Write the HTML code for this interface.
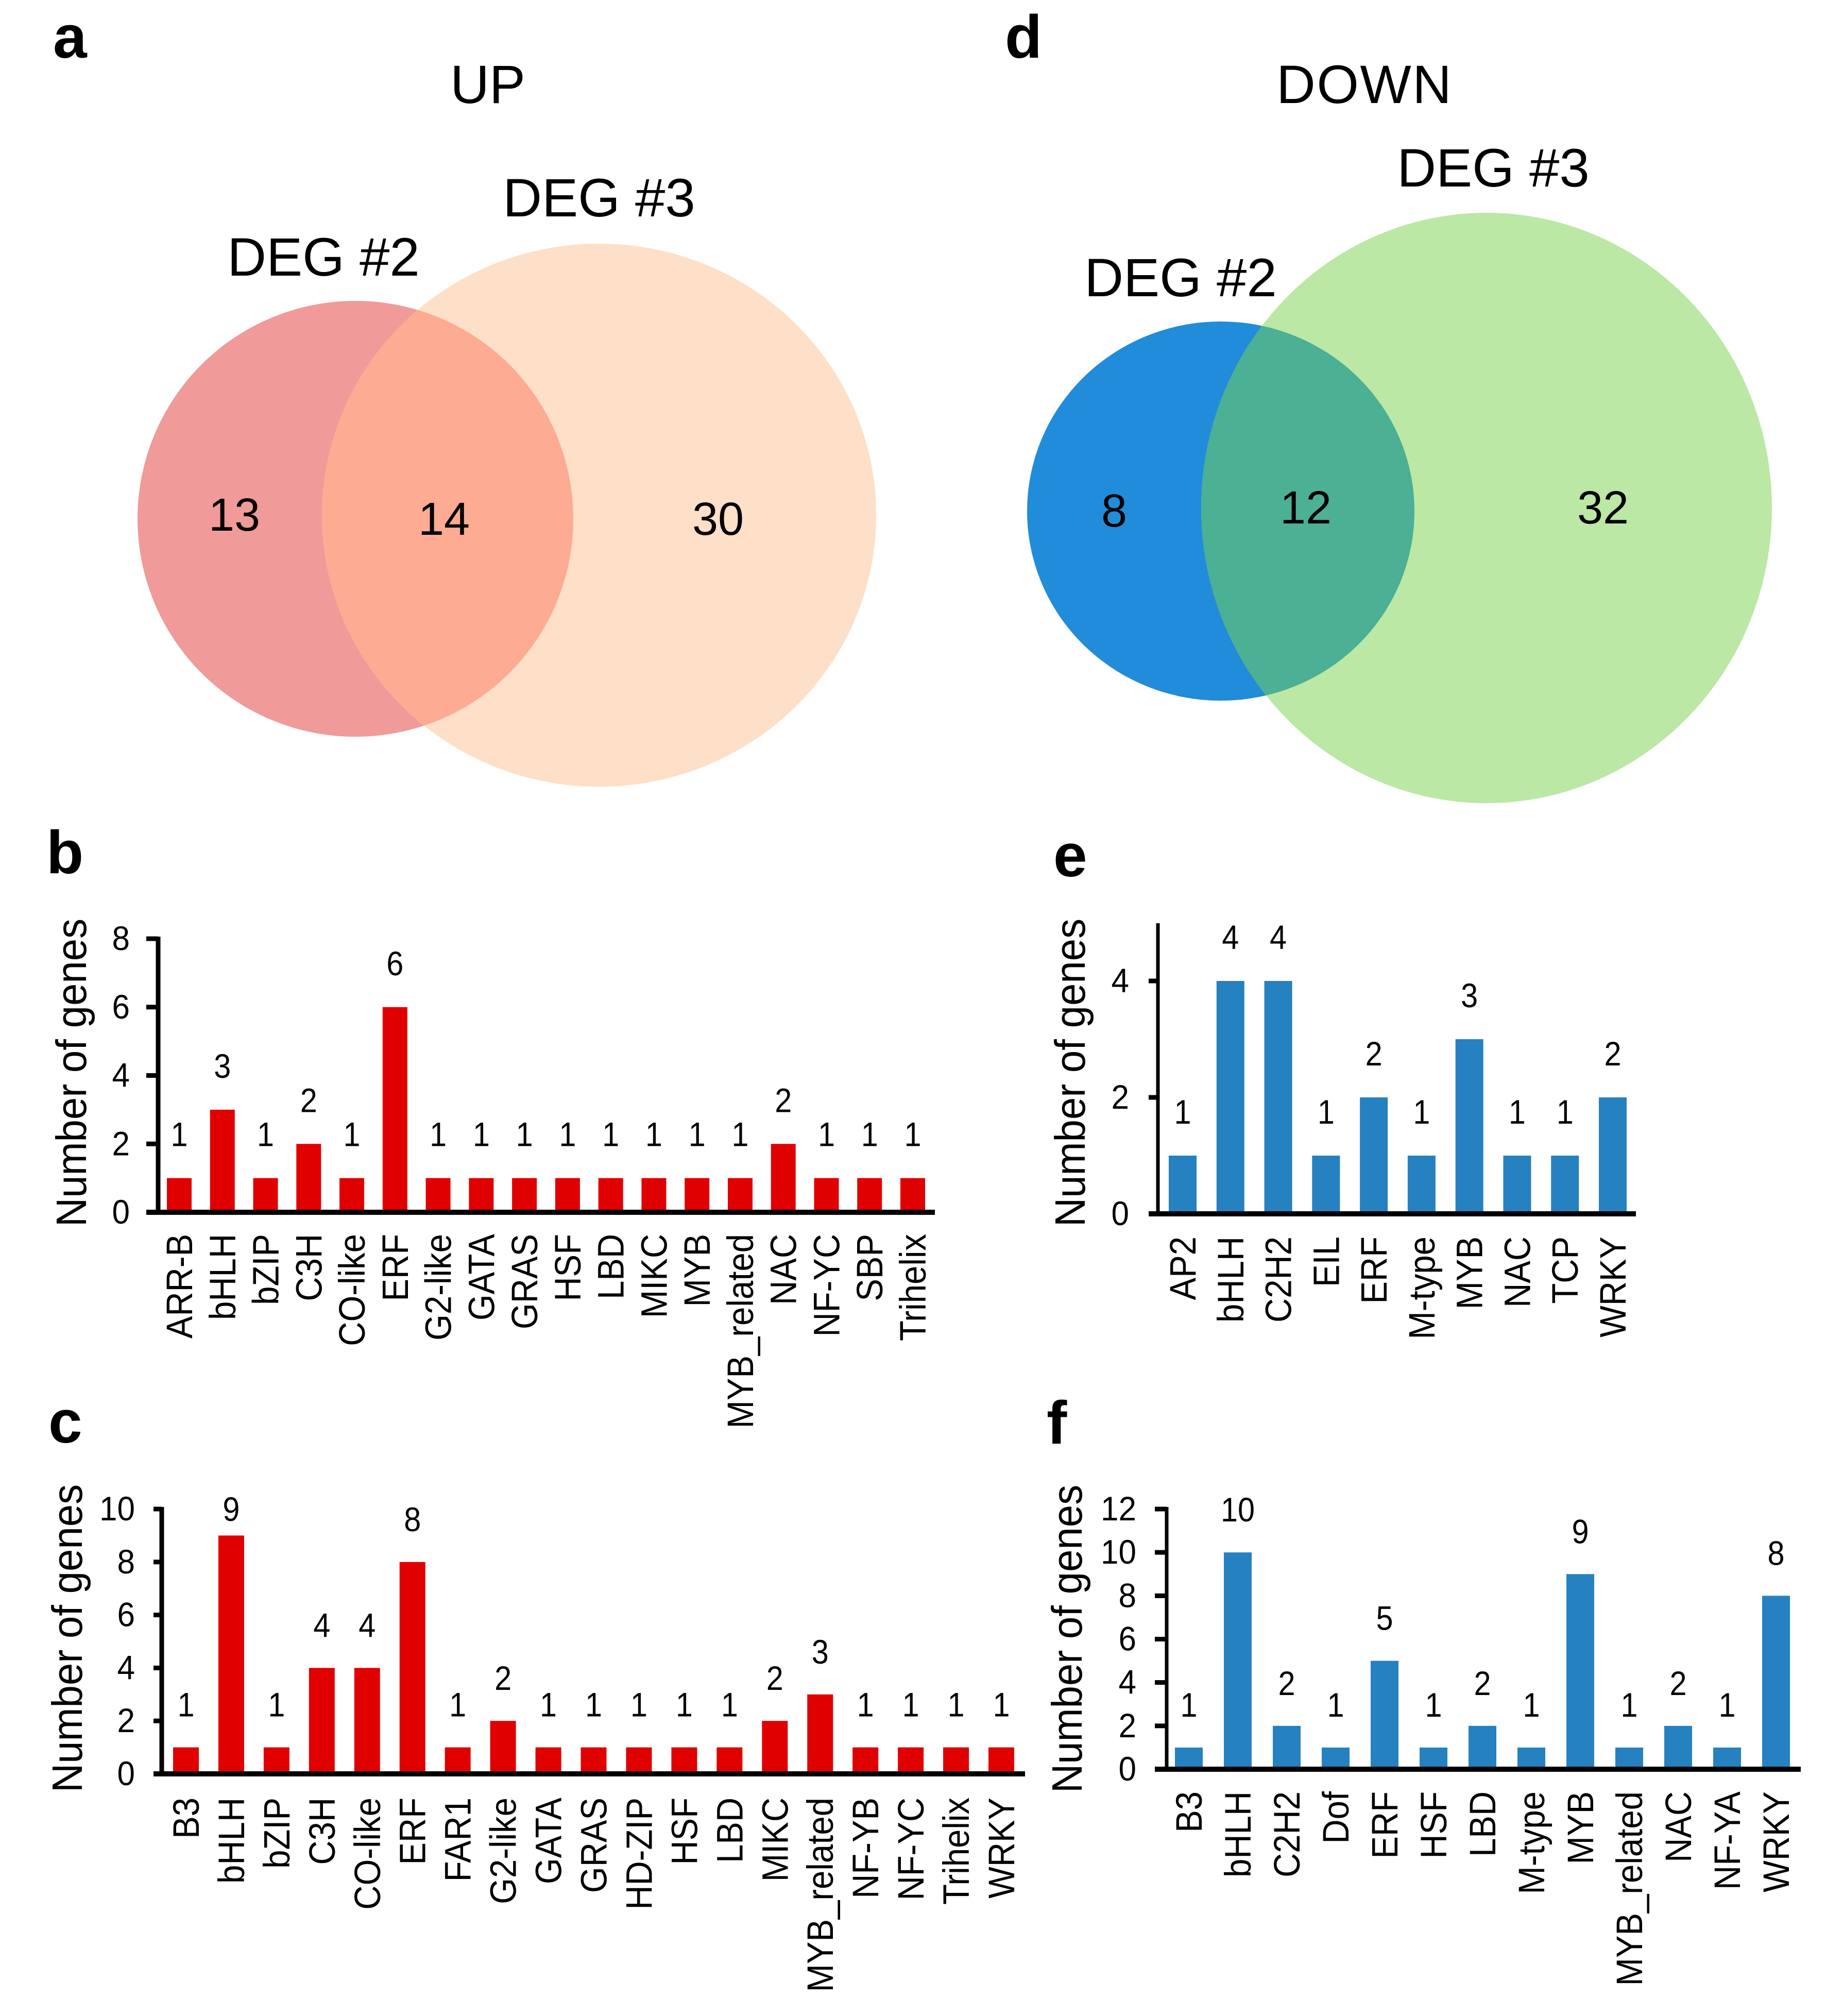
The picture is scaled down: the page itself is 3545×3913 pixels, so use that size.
<!DOCTYPE html>
<html lang="en">
<head>
<meta charset="utf-8">
<title>UP and DOWN DEG Venn diagrams and transcription factor counts</title>
<style>
html,body{margin:0;padding:0;background:#fff;width:3545px;height:3913px;overflow:hidden}
svg{display:block}
text{font-family:"Liberation Sans",sans-serif;fill:#000}
.panel{font-weight:700;font-size:118px}
.big{font-size:105px;text-anchor:middle}
.num{font-size:90px;text-anchor:middle}
</style>
</head>
<body>
<svg id="figure" xmlns="http://www.w3.org/2000/svg" width="3545" height="3913" viewBox="0 0 3545 3913">
  <defs>
    <clipPath id="clip-up"><ellipse cx="690" cy="1007" rx="423" ry="423"/></clipPath>
    <clipPath id="clip-down"><ellipse cx="2370" cy="992" rx="376" ry="368"/></clipPath>
  </defs>
  <rect width="3545" height="3913" fill="#fff"/>

  <g>
    <ellipse cx="690" cy="1007" rx="423" ry="423" fill="#f09a9a"/>
    <ellipse cx="1163" cy="1000" rx="538" ry="527" fill="#fedfc7"/>
    <ellipse cx="1163" cy="1000" rx="538" ry="527" fill="#fdab92" clip-path="url(#clip-up)"/>
    <text class="big" x="947" y="200">UP</text>
    <text class="big" x="1163" y="420">DEG #3</text>
    <text class="big" x="628" y="535">DEG #2</text>
    <text class="num" x="455" y="1030">13</text>
    <text class="num" x="862" y="1038">14</text>
    <text class="num" x="1394" y="1038">30</text>
  </g>

  <g>
    <ellipse cx="2370" cy="992" rx="376" ry="368" fill="#218cd9"/>
    <ellipse cx="2886" cy="986" rx="554" ry="573" fill="#bbe8a5"/>
    <ellipse cx="2886" cy="986" rx="554" ry="573" fill="#4bb094" clip-path="url(#clip-down)"/>
    <text class="big" x="2648" y="200" textLength="340" lengthAdjust="spacing">DOWN</text>
    <text class="big" x="2899" y="362">DEG #3</text>
    <text class="big" x="2292" y="575">DEG #2</text>
    <text class="num" x="2163" y="1022">8</text>
    <text class="num" x="2535" y="1016">12</text>
    <text class="num" x="3112" y="1016">32</text>
  </g>

  <text class="panel" x="103" y="112">a</text>
  <text class="panel" x="90" y="1695">b</text>
  <text class="panel" x="94" y="2800">c</text>
  <text class="panel" x="1951" y="112">d</text>
  <text class="panel" x="2045" y="1701">e</text>
  <text class="panel" x="2032" y="2802">f</text>

  <g id="chart-b"></g>
  <g id="chart-c"></g>
  <g id="chart-e"></g>
  <g id="chart-f"></g>
</svg>

<script>
const bCategories = ["ARR-B","bHLH","bZIP","C3H","CO-like","ERF","G2-like","GATA","GRAS","HSF","LBD","MIKC","MYB","MYB_related","NAC","NF-YC","SBP","Trihelix"];
const bValues = [1,3,1,2,1,6,1,1,1,1,1,1,1,1,2,1,1,1];
const bTicks = [0,2,4,6,8];

const cCategories = ["B3","bHLH","bZIP","C3H","CO-like","ERF","FAR1","G2-like","GATA","GRAS","HD-ZIP","HSF","LBD","MIKC","MYB_related","NF-YB","NF-YC","Trihelix","WRKY"];
const cValues = [1,9,1,4,4,8,1,2,1,1,1,1,1,2,3,1,1,1,1];
const cTicks = [0,2,4,6,8,10];

const eCategories = ["AP2","bHLH","C2H2","EIL","ERF","M-type","MYB","NAC","TCP","WRKY"];
const eValues = [1,4,4,1,2,1,3,1,1,2];
const eTicks = [0,2,4];

const fCategories = ["B3","bHLH","C2H2","Dof","ERF","HSF","LBD","M-type","MYB","MYB_related","NAC","NF-YA","WRKY"];
const fValues = [1,10,2,1,5,1,2,1,9,1,2,1,8];
const fTicks = [0,2,4,6,8,10,12];

const NS = "http://www.w3.org/2000/svg";

function make(parent, tag, props, content) {
  const el = document.createElementNS(NS, tag);
  for (const k in props) el.setAttribute(k, props[k]);
  if (content !== undefined) el.textContent = content;
  parent.appendChild(el);
  return el;
}

function drawBarChart(cfg, categories, values, ticks) {
  const root = document.getElementById(cfg.id);
  const yScale = function (v) { return cfg.y0 - (v / cfg.yMax) * (cfg.y0 - cfg.yTop); };
  const step = (cfg.lastX - cfg.firstX) / (categories.length - 1);
  const xScale = function (i) { return cfg.firstX + i * step; };

  categories.forEach(function (cat, i) {
    const slug = cat.toLowerCase().replace(/[^a-z0-9]+/g, '-');
    const top = yScale(values[i]);
    const bar = make(root, 'rect', {
      x: xScale(i) - cfg.barWidth / 2, y: top,
      width: cfg.barWidth, height: cfg.y0 - top, fill: cfg.color
    });
    
    

    const labelY = Math.max(top - cfg.labelGap, cfg.labelMinY);
    const valueLabel = make(root, 'text', {
      'text-anchor': 'middle', 'font-size': 66, fill: '#111',
      transform: 'translate(' + xScale(i) + ' ' + labelY + ') scale(0.9 1)'
    }, values[i]);
    
    

    const bx = xScale(i) + 25;
    const catLabel = make(root, 'text', {
      'text-anchor': 'end', 'font-size': 71,
      transform: 'translate(' + bx + ' ' + cfg.catTop + ') rotate(-90) scale(0.92 1)'
    }, cat);
    
    
  });

  ticks.forEach(function (t) {
    const y = yScale(t);
    const mark = make(root, 'line', {
      x1: cfg.tickLeft, x2: cfg.axisX, y1: y, y2: y,
      stroke: '#000', 'stroke-width': 9
    });
    
    

    const tickLabel = make(root, 'text', {
      'text-anchor': 'end', 'font-size': 66,
      transform: 'translate(' + cfg.tickTextEnd + ' ' + (y + 22) + ') scale(0.94 1)'
    }, t);
    
    
  });

  const yAxis = make(root, 'line', {
    x1: cfg.axisX, x2: cfg.axisX, y1: cfg.axisTop, y2: cfg.y0,
    stroke: '#000', 'stroke-width': cfg.axisW
  });
  
  

  const xAxis = make(root, 'line', {
    x1: cfg.tickLeft, x2: cfg.axisRight, y1: cfg.y0, y2: cfg.y0,
    stroke: '#000', 'stroke-width': 10
  });
  
  

  const title = make(root, 'text', {
    'text-anchor': 'middle', 'font-size': 83,
    transform: 'translate(' + cfg.titleX + ' ' + cfg.titleY + ') rotate(-90) scale(0.94 1)'
  }, 'Number of genes');
  
  
}

drawBarChart({
  id: 'chart-b', color: '#e00000', y0: 2353, yTop: 1822, yMax: 8, axisTop: 1818,
  firstX: 348, lastX: 1772, barWidth: 48, axisX: 307, axisW: 9, tickLeft: 284, axisRight: 1815,
  tickTextEnd: 252, catTop: 2395, titleX: 167, titleY: 2082, labelGap: 62, labelMinY: 0
}, bCategories, bValues, bTicks);

drawBarChart({
  id: 'chart-c', color: '#e00000', y0: 3443, yTop: 2929, yMax: 10, axisTop: 2925,
  firstX: 361, lastX: 1944, barWidth: 50, axisX: 314, axisW: 9, tickLeft: 298, axisRight: 1990,
  tickTextEnd: 262, catTop: 3489, titleX: 159, titleY: 3180, labelGap: 60, labelMinY: 2952
}, cCategories, cValues, cTicks);

drawBarChart({
  id: 'chart-e', color: '#2681c0', y0: 2356, yTop: 1904, yMax: 4, axisTop: 1792,
  firstX: 2296, lastX: 3131, barWidth: 54, axisX: 2248, axisW: 7, tickLeft: 2230, axisRight: 3176,
  tickTextEnd: 2192, catTop: 2400, titleX: 2106, titleY: 2082, labelGap: 62, labelMinY: 0
}, eCategories, eValues, eTicks);

drawBarChart({
  id: 'chart-f', color: '#2681c0', y0: 3434, yTop: 2929, yMax: 12, axisTop: 2925,
  firstX: 2308, lastX: 3448, barWidth: 54, axisX: 2265, axisW: 7, tickLeft: 2242, axisRight: 3496,
  tickTextEnd: 2206, catTop: 3477, titleX: 2100, titleY: 3181, labelGap: 60, labelMinY: 0
}, fCategories, fValues, fTicks);
</script>
</body>
</html>
